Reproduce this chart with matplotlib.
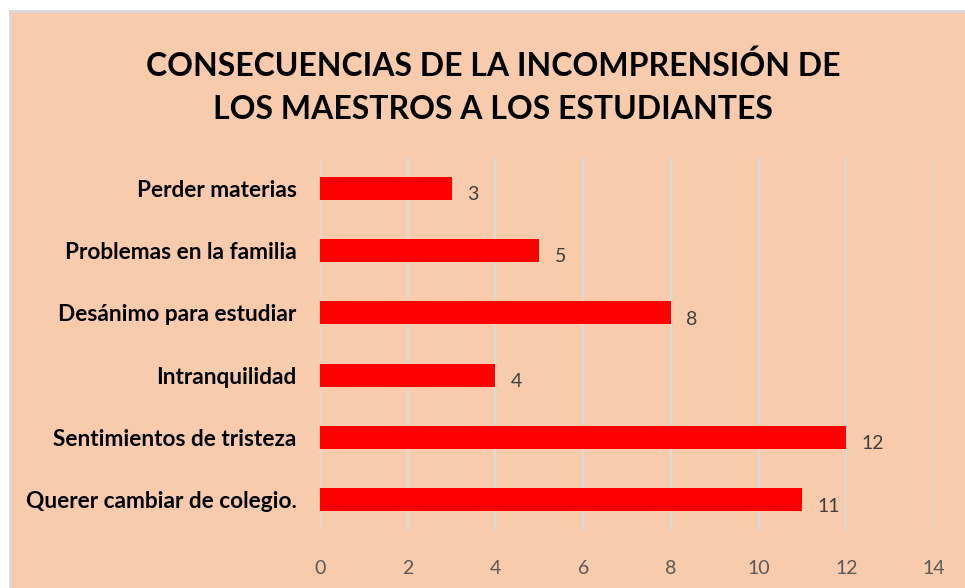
import matplotlib.pyplot as plt
from matplotlib.patches import Rectangle

# data, top to bottom as shown
categorias = ["Perder materias", "Problemas en la familia", "Desánimo para estudiar",
              "Intranquilidad", "Sentimientos de tristeza", "Querer cambiar de colegio."]
valores = [3, 5, 8, 4, 12, 11]
xticks = [0, 2, 4, 6, 8, 10, 12, 14]
titulo = "CONSECUENCIAS DE LA INCOMPRENSIÓN DE\nLOS MAESTROS A LOS ESTUDIANTES"

fondo = "#F8CBAD"
W, H = 965, 588
fig = plt.figure(figsize=(W / 100, H / 100), dpi=100)
fig.patch.set_facecolor("white")
fig.patches.append(Rectangle((10 / W, -0.01), 1, 1.01 - 11 / H, transform=fig.transFigure,
                             facecolor=fondo, edgecolor="#D9D9D9", linewidth=2, zorder=0))

ax = fig.add_axes([320 / W, 1 - 531 / H, (934 - 320) / W, (531 - 157) / H])
ax.set_zorder(2)
ax.set_facecolor("none")
pos = list(range(len(categorias)))[::-1]
ax.barh(pos, valores, height=0.37, color="#FF0000", zorder=3)
for p, v in zip(pos, valores):
    ax.text(v + 0.35, p - 0.1, str(v), va="center", ha="left", fontsize=14,
            color="#404040", family="Lato")

ax.set_xlim(0, 14)
ax.set_ylim(-0.5, 5.5)
ax.set_xticks(xticks)
ax.set_xticklabels([str(t) for t in xticks], fontsize=14, color="#595959", family="Lato")
ax.set_yticks(pos)
ax.set_yticklabels(categorias, fontsize=16.3, fontweight="bold", family="Lato")
ax.tick_params(axis="both", length=0)
ax.tick_params(axis="x", pad=21)
ax.tick_params(axis="y", pad=17)
ax.grid(axis="x", color="#D9D9D9", linewidth=1.5, zorder=0)
for s in ax.spines.values():
    s.set_visible(False)

t = fig.text(493 / W, 1 - 87 / H, titulo, ha="center", va="center", fontsize=23,
             fontweight="bold", family="Lato", linespacing=1.6)
t.set_zorder(3)

fig.savefig("out.png", dpi=100)
